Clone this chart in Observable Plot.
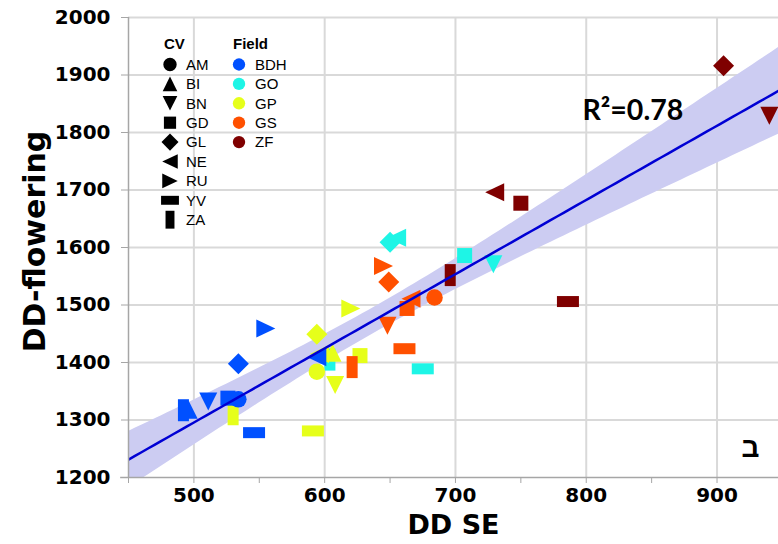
<!DOCTYPE html>
<html><head><meta charset="utf-8">
<script src="https://cdn.jsdelivr.net/npm/d3@7"></script>
<script src="https://cdn.jsdelivr.net/npm/@observablehq/plot@0.6"></script>
<style>
html,body{margin:0;padding:0;background:#fff;}
#chart{position:relative;width:778px;height:544px;overflow:hidden;}
</style>
</head><body><div id="chart"></div>
<script>
// ---------- data ----------
const fieldNames = ["BDH", "GO", "GP", "GS", "ZF"];
const fieldColors = ["#0050ff", "#1ef5e6", "#e6ff1a", "#ff5000", "#7f0000"];
const cvNames = ["AM", "BI", "BN", "GD", "GL", "NE", "RU", "YV", "ZA"];

const pointField = [
  "GO","GO","GO","GO","GO","GO",
  "GP","GP","GP","GP","GP","GP","GP","GP","GP",
  "GS","GS","GS","GS","GS","GS","GS","GS",
  "BDH","BDH","BDH","BDH","BDH","BDH","BDH","BDH","BDH",
  "ZF","ZF","ZF","ZF","ZF","ZF"
];
const pointCV = [
  "ZA","GL","NE","GD","BN","YV",
  "GL","NE","BI","AM","BN","GD","RU","YV","ZA",
  "RU","GL","AM","NE","GD","BN","YV","ZA",
  "ZA","BI","BN","GD","AM","GL","NE","RU","YV",
  "GL","BN","NE","GD","ZA","YV"
];
const ddSE = [
  604, 650, 655, 707, 729, 675,
  594, 596, 606, 594, 608, 627, 620, 591, 530,
  645, 649, 684, 666, 663, 648, 661, 621,
  492, 496, 511, 526, 534, 534, 594, 555, 546,
  905, 940, 730, 750, 696, 786
];
const ddFlowering = [
  1405, 1609, 1617, 1586, 1571, 1389,
  1449, 1415, 1417, 1384, 1361, 1412, 1494, 1281, 1310,
  1568, 1540, 1513, 1511, 1494, 1464, 1424, 1392,
  1317, 1318, 1332, 1338, 1336, 1398, 1409, 1459, 1278,
  1916, 1829, 1696, 1677, 1552, 1506
];

const xDomain = [450, 947];
const yDomain = [1200, 2000];
const xTicks = [500, 600, 700, 800, 900];
const xMinorTicks = [450, 500, 550, 600, 650, 700, 750, 800, 850, 900];
const yTicks = [1200, 1300, 1400, 1500, 1600, 1700, 1800, 1900, 2000];
const xTitle = "DD SE";
const yTitle = "DD-flowering";
const r2Label = "R\u00B2=0.78";
const panelLabel = "\u05D1";
const cvTitle = "CV";
const fieldTitle = "Field";

// ---------- custom symbols ----------
function poly(pts) {
  return {draw(ctx, size) {
    const k = Math.sqrt(size / Math.PI) / 8;
    ctx.moveTo(pts[0][0] * k, pts[0][1] * k);
    for (let i = 1; i < pts.length; i++) ctx.lineTo(pts[i][0] * k, pts[i][1] * k);
    ctx.closePath();
  }};
}
const symCircle = {draw(ctx, size) {
  const r = Math.sqrt(size / Math.PI) * 1.03;
  ctx.moveTo(r, 0); ctx.arc(0, 0, r, 0, 2 * Math.PI); ctx.closePath();
}};
const symbols = {
  AM: symCircle,
  BI: poly([[0, -9], [9, 9], [-9, 9]]),
  BN: poly([[0, 9], [9, -9], [-9, -9]]),
  GD: poly([[-7.5, -7.5], [7.5, -7.5], [7.5, 7.5], [-7.5, 7.5]]),
  GL: poly([[0, -10.5], [10.5, 0], [0, 10.5], [-10.5, 0]]),
  NE: poly([[-9.5, 0], [9.5, -9], [9.5, 9]]),
  RU: poly([[9.5, 0], [-9.5, -9], [-9.5, 9]]),
  YV: poly([[-11, -5.5], [11, -5.5], [11, 5.5], [-11, 5.5]]),
  ZA: poly([[-5.5, -11], [5.5, -11], [5.5, 11], [-5.5, 11]])
};

// ---------- regression ----------
const data = ddSE.map((x, i) => ({x, y: ddFlowering[i], field: pointField[i], cv: pointCV[i]}));
const n = data.length;
const mx = d3.mean(ddSE), my = d3.mean(ddFlowering);
const Sxx = d3.sum(ddSE, x => (x - mx) ** 2);
const Sxy = d3.sum(data, d => (d.x - mx) * (d.y - my));
const b = Sxy / Sxx, a = my - b * mx;
const sse = d3.sum(data, d => (d.y - (a + b * d.x)) ** 2);
const se = Math.sqrt(sse / (n - 2));
const tCrit = 2.028;
const fit = d3.range(0, 101).map(i => {
  const x = xDomain[0] + (xDomain[1] - xDomain[0]) * i / 100;
  const yh = a + b * x;
  const h = tCrit * se * Math.sqrt(1 / n + (x - mx) ** 2 / Sxx);
  return {x, y: yh, lo: yh - h, hi: yh + h};
});

const axisFont = "DejaVu Sans, Verdana, sans-serif";

const chart = Plot.plot({
  width: 778, height: 544,
  marginLeft: 128, marginRight: 0, marginTop: 17, marginBottom: 67,
  x: {domain: xDomain},
  y: {domain: yDomain},
  color: {domain: fieldNames, range: fieldColors},
  symbol: {domain: cvNames, range: cvNames.map(c => symbols[c])},
  style: {fontFamily: "Liberation Sans, Arial, sans-serif", background: "white", color: "black"},
  marks: [
    Plot.gridX(xTicks, {stroke: "#d9d9d9", strokeOpacity: 1, strokeWidth: 2}),
    Plot.gridY(yTicks.filter(v => v > yDomain[0]), {stroke: "#d9d9d9", strokeOpacity: 1, strokeWidth: 2}),
    Plot.areaY(fit, {x: "x", y1: "lo", y2: "hi", fill: "#ccccf2", clip: "frame"}),
    Plot.dot(data, {x: "x", y: "y", fill: "field", symbol: "cv", r: 8, stroke: "none"}),
    Plot.line(fit, {x: "x", y: "y", stroke: "#0000d4", strokeWidth: 2.5, clip: "frame"}),
    Plot.ruleX([xDomain[0]], {stroke: "#a6a6a6", strokeWidth: 1.5}),
    Plot.ruleY([yDomain[0]], {stroke: "#a6a6a6", strokeWidth: 1.5, x1: xDomain[0] - 6, x2: xDomain[1]}),
    Plot.axisX({ticks: xMinorTicks, tickFormat: d => (d % 100 === 0 ? String(d) : ""), tickSize: 6, tickPadding: 4,
      stroke: "#a6a6a6", fill: "black", fontSize: 20, fontWeight: "bold", fontFamily: axisFont, label: null}),
    Plot.axisY({ticks: yTicks, tickFormat: d => String(d), tickSize: 7, tickPadding: 11,
      stroke: "#a6a6a6", fill: "black", fontSize: 20, fontWeight: "bold", fontFamily: axisFont, label: null}),
    Plot.text([xTitle], {frameAnchor: "bottom", dy: 56, fontSize: 27, fontWeight: "bold", fontFamily: axisFont, fill: "black"}),
    Plot.text([yTitle], {frameAnchor: "left", dx: -93, dy: -6, rotate: -90, textAnchor: "middle", fontSize: 30, fontWeight: "bold", fontFamily: axisFont, fill: "black"}),
    Plot.text([r2Label], {frameAnchor: "top-left", dx: 454, dy: 82, textAnchor: "start", fontSize: 28.5, fontWeight: "bold", fontFamily: "Lato, Open Sans, sans-serif", fill: "black"}),
    Plot.text([panelLabel], {frameAnchor: "bottom-right", dx: -19, dy: -21, fontSize: 28, fontWeight: "bold", fontFamily: "Liberation Sans, DejaVu Sans, sans-serif", fill: "black"})
  ]
});
document.getElementById("chart").appendChild(chart);

// ---------- legend (inside plot area) ----------
const color = chart.scale("color");
const svg = d3.select(chart);
const g = svg.append("g").attr("font-family", "Liberation Sans, Arial, sans-serif").attr("font-size", 15)
  .attr("fill", "black").attr("text-anchor", "start");
g.append("text").attr("x", 164).attr("y", 44).attr("dy", "0.35em").attr("font-weight", "bold").text(cvTitle);
g.append("text").attr("x", 233).attr("y", 44).attr("dy", "0.35em").attr("font-weight", "bold").text(fieldTitle);
const legendSize = Math.PI * 6.5 * 6.5;
cvNames.forEach((c, i) => {
  const y = 64.5 + i * 19.4;
  g.append("path").attr("transform", `translate(170,${y})`).attr("d", d3.symbol(symbols[c], legendSize)()).attr("fill", "black");
  g.append("text").attr("x", 186).attr("y", y).attr("dy", "0.35em").text(c);
});
fieldNames.forEach((f, i) => {
  const y = 64.5 + i * 19.4;
  g.append("path").attr("transform", `translate(239,${y})`).attr("d", d3.symbol(symCircle, Math.PI * 6 * 6)()).attr("fill", color.apply(f));
  g.append("text").attr("x", 255).attr("y", y).attr("dy", "0.35em").text(f);
});
</script>
</body></html>
